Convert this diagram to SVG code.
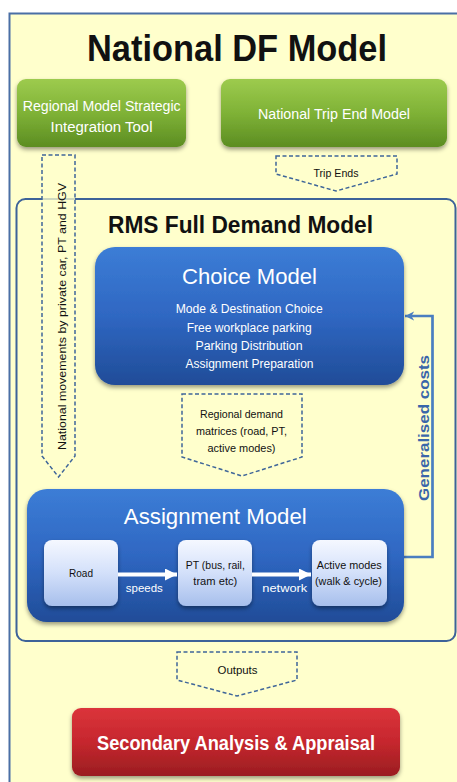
<svg xmlns="http://www.w3.org/2000/svg" width="457" height="782" viewBox="0 0 457 782">
<defs>
<linearGradient id="gGreen" x1="0" y1="0" x2="0" y2="1">
<stop offset="0" stop-color="#9DCB4E"/><stop offset="0.5" stop-color="#7FB236"/><stop offset="1" stop-color="#5C8D22"/>
</linearGradient>
<linearGradient id="gBlue" x1="0" y1="0" x2="0" y2="1">
<stop offset="0" stop-color="#3C7DD6"/><stop offset="0.5" stop-color="#2F67C2"/><stop offset="1" stop-color="#204C98"/>
</linearGradient>
<linearGradient id="gRed" x1="0" y1="0" x2="0" y2="1">
<stop offset="0" stop-color="#DB343B"/><stop offset="0.5" stop-color="#C6272E"/><stop offset="1" stop-color="#9A1D21"/>
</linearGradient>
<linearGradient id="gLight" x1="0" y1="0" x2="0" y2="1">
<stop offset="0" stop-color="#F5F8FF"/><stop offset="0.5" stop-color="#D3E0FA"/><stop offset="1" stop-color="#A7BFEC"/>
</linearGradient>
<filter id="sh" x="-10%" y="-10%" width="120%" height="130%">
<feDropShadow dx="0" dy="2.5" stdDeviation="2" flood-color="#000" flood-opacity="0.4"/>
</filter>
<marker id="mWhite" viewBox="0 0 10 10" refX="10" refY="5" markerWidth="3" markerHeight="3" markerUnits="strokeWidth" orient="auto">
<path d="M0,0 L10,5 L0,10 Z" fill="#FFFFFF"/>
</marker>
<marker id="mBlue" viewBox="0 0 10 10" refX="10" refY="5" markerWidth="3.4" markerHeight="3.8" markerUnits="strokeWidth" orient="auto">
<path d="M0,0 L10,5 L0,10 L3,5 Z" fill="#4A7EC0"/>
</marker>
<style>
.frame{fill:#FFFFCC;stroke:#4A6FA5;stroke-width:2}
.rms{fill:none;stroke:#3D6399;stroke-width:2}
.dash{fill:#FFFFCC;fill-opacity:0.75;stroke:#3F6699;stroke-width:1.5;stroke-dasharray:4 2.5}
.t{font-family:"Liberation Sans",Arial,sans-serif}
.w{fill:#FFFFFF}
.k{fill:#111111}
.b{font-weight:bold}
.mid{text-anchor:middle}
.wl{stroke:#FFFFFF;stroke-width:4;fill:none}
</style>
</defs>

<rect class="frame" x="9.5" y="13.5" width="460" height="780"/>
<text class="t b k mid" x="237" y="61" font-size="36" textLength="300" lengthAdjust="spacingAndGlyphs">National DF Model</text>

<rect class="rms" x="16.5" y="199" width="439" height="442" rx="9"/>
<text class="t b k mid" x="240.5" y="233" font-size="24" textLength="265" lengthAdjust="spacingAndGlyphs">RMS Full Demand Model</text>

<g id="connectors">
<g id="c-national-movements">
<path class="dash" d="M42,155 L75,155 L75,456 L58.5,477 L42,456 Z"/>
<text class="t k mid" transform="translate(66,316.5) rotate(-90)" font-size="11" textLength="267" lengthAdjust="spacingAndGlyphs">National movements by private car, PT and HGV</text>
</g>
<g id="c-trip-ends">
<path class="dash" d="M276,156 L397,156 L397,174 L336,191 L276,174 Z"/>
<text class="t k mid" x="336" y="177.3" font-size="11" textLength="45" lengthAdjust="spacingAndGlyphs">Trip Ends</text>
</g>
<g id="c-demand">
<path class="dash" d="M182,394 L302,394 L302,457 L242,476 L182,457 Z"/>
<text class="t k mid" x="241.5" y="418" font-size="11" textLength="83" lengthAdjust="spacingAndGlyphs">Regional demand</text>
<text class="t k mid" x="241.5" y="435" font-size="11" textLength="91" lengthAdjust="spacingAndGlyphs">matrices (road, PT,</text>
<text class="t k mid" x="241.5" y="452" font-size="11" textLength="68" lengthAdjust="spacingAndGlyphs">active modes)</text>
</g>
<g id="c-outputs">
<path class="dash" d="M177,652 L297,652 L297,680 L237,696 L177,680 Z"/>
<text class="t k mid" x="237.5" y="674.3" font-size="11" textLength="40" lengthAdjust="spacingAndGlyphs">Outputs</text>
</g>
<g id="c-generalised">
<path d="M404,557 L432.5,557 L432.5,316 L405,316" fill="none" stroke="#4A7EC0" stroke-width="2.7" marker-end="url(#mBlue)"/>
<text class="t b mid" fill="#3A66AA" transform="translate(429,428) rotate(-90)" font-size="15.5" textLength="146" lengthAdjust="spacingAndGlyphs">Generalised costs</text>
</g>
</g>

<g id="n-rmsit">
<rect x="17" y="79" width="169" height="68" rx="9" fill="url(#gGreen)" filter="url(#sh)"/>
<text class="t w mid" x="101.7" y="111" font-size="14" textLength="158" lengthAdjust="spacingAndGlyphs">Regional Model Strategic</text>
<text class="t w mid" x="101.5" y="131.7" font-size="14" textLength="102" lengthAdjust="spacingAndGlyphs">Integration Tool</text>
</g>

<g id="n-ntem">
<rect x="221" y="79" width="226" height="68" rx="9" fill="url(#gGreen)" filter="url(#sh)"/>
<text class="t w mid" x="334" y="119" font-size="14" textLength="152" lengthAdjust="spacingAndGlyphs">National Trip End Model</text>
</g>

<g id="n-choice">
<rect x="95" y="247" width="309" height="138" rx="20" fill="url(#gBlue)" filter="url(#sh)"/>
<text class="t w mid" x="249.5" y="284" font-size="22" textLength="135" lengthAdjust="spacingAndGlyphs">Choice Model</text>
<text class="t w mid" x="249.2" y="313" font-size="12" textLength="147" lengthAdjust="spacingAndGlyphs">Mode &amp; Destination Choice</text>
<text class="t w mid" x="249.2" y="331.5" font-size="12" textLength="125" lengthAdjust="spacingAndGlyphs">Free workplace parking</text>
<text class="t w mid" x="249" y="350" font-size="12" textLength="107" lengthAdjust="spacingAndGlyphs">Parking Distribution</text>
<text class="t w mid" x="249.5" y="368" font-size="12" textLength="128" lengthAdjust="spacingAndGlyphs">Assignment Preparation</text>
</g>

<g id="n-assignment">
<rect x="27" y="489" width="377" height="133" rx="20" fill="url(#gBlue)" filter="url(#sh)"/>
<text class="t w mid" x="215.3" y="524" font-size="22" textLength="183" lengthAdjust="spacingAndGlyphs">Assignment Model</text>
</g>

<g id="n-road">
<rect x="44" y="540" width="74" height="66" rx="8" fill="url(#gLight)" filter="url(#sh)"/>
<text class="t k mid" x="81" y="577" font-size="11.5" textLength="24" lengthAdjust="spacingAndGlyphs">Road</text>
</g>

<g id="n-pt">
<rect x="178" y="540" width="74" height="66" rx="8" fill="url(#gLight)" filter="url(#sh)"/>
<text class="t k mid" x="215.3" y="569" font-size="11.5" textLength="59" lengthAdjust="spacingAndGlyphs">PT (bus, rail,</text>
<text class="t k mid" x="215.3" y="585" font-size="11.5" textLength="44" lengthAdjust="spacingAndGlyphs">tram etc)</text>
</g>

<g id="n-active">
<rect x="312" y="540" width="75" height="66" rx="8" fill="url(#gLight)" filter="url(#sh)"/>
<text class="t k mid" x="349.2" y="569" font-size="11.5" textLength="65" lengthAdjust="spacingAndGlyphs">Active modes</text>
<text class="t k mid" x="348.5" y="585" font-size="11.5" textLength="67" lengthAdjust="spacingAndGlyphs">(walk &amp; cycle)</text>
</g>

<g id="c-inner">
<path class="wl" d="M118,574.5 L177,574.5" marker-end="url(#mWhite)"/>
<text class="t w mid" x="144.3" y="591.5" font-size="11.5" textLength="37" lengthAdjust="spacingAndGlyphs">speeds</text>
<path class="wl" d="M252,574.5 L311,574.5" marker-end="url(#mWhite)"/>
<text class="t w mid" x="284.8" y="591.5" font-size="11.5" textLength="45" lengthAdjust="spacingAndGlyphs">network</text>
</g>

<g id="n-secondary">
<rect x="72" y="708" width="328" height="68" rx="9" fill="url(#gRed)" filter="url(#sh)"/>
<text class="t b w mid" x="236" y="750" font-size="20" textLength="278" lengthAdjust="spacingAndGlyphs">Secondary Analysis &amp; Appraisal</text>
</g>
</svg>
